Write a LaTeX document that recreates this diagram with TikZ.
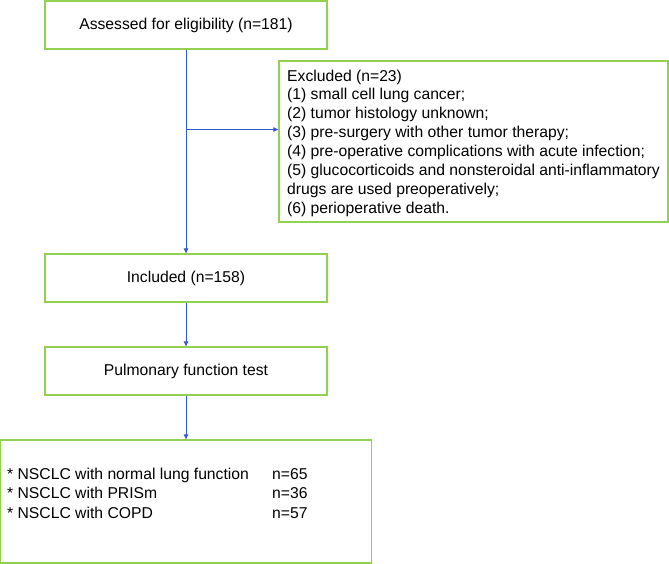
\documentclass[tikz,border=0pt]{standalone}
\usepackage{fontspec}
\setmainfont{Liberation Sans}
\usetikzlibrary{arrows.meta}
\definecolor{boxgreen}{RGB}{146,208,80}
\definecolor{arrblue}{RGB}{50,88,212}
\tikzset{
  box/.style={draw=boxgreen, line width=1.3pt, rectangle, inner sep=0pt, fill=white},
  arr/.style={draw=arrblue, line width=1pt, -{Triangle[length=5pt,width=4.5pt]}},
  txt/.style={font=\fontsize{15.7}{18.9}\selectfont, inner sep=0pt}
}
\begin{document}
\begin{tikzpicture}[x=1pt,y=-1pt]
\useasboundingbox (0,0) rectangle (669,564);
\node[box, txt, minimum width=282pt, minimum height=48pt] (top) at (186,25) {Assessed for eligibility (n=181)};
\node[box, minimum width=389pt, minimum height=161pt] (excl) at (473.5,141.5) {};
\node[txt, anchor=north west, align=left] (excltext) at (287,69.5) {Excluded (n=23)\\
(1) small cell lung cancer;\\
(2) tumor histology unknown;\\
(3) pre-surgery with other tumor therapy;\\
(4) pre-operative complications with acute infection;\\
(5) glucocorticoids and nonsteroidal anti-inflammatory\\
drugs are used preoperatively;\\
(6) perioperative death.};
\node[box, txt, minimum width=282pt, minimum height=48pt] (incl) at (186,278) {Included (n=158)};
\node[box, txt, minimum width=282pt, minimum height=48pt] (pft) at (186,371) {Pulmonary function test};
\node[box, minimum width=371pt, minimum height=123pt] (res) at (186,501.5) {};
\node[txt, anchor=west, align=left, font=\fontsize{15.7}{19.5}\selectfont] (restext) at (7,493) {\makebox[265pt][l]{* NSCLC with normal lung function}n=65\\
\makebox[265pt][l]{* NSCLC with PRISm}n=36\\
\makebox[265pt][l]{* NSCLC with COPD}n=57};
\coordinate (branch) at (186,129.5);
\draw[arr] (top.south) -- (incl.north);
\draw[arr] (branch) -- (branch -| excl.west);
\draw[arr] (incl.south) -- (pft.north);
\draw[arr] (pft.south) -- (res.north);
\end{tikzpicture}
\end{document}
